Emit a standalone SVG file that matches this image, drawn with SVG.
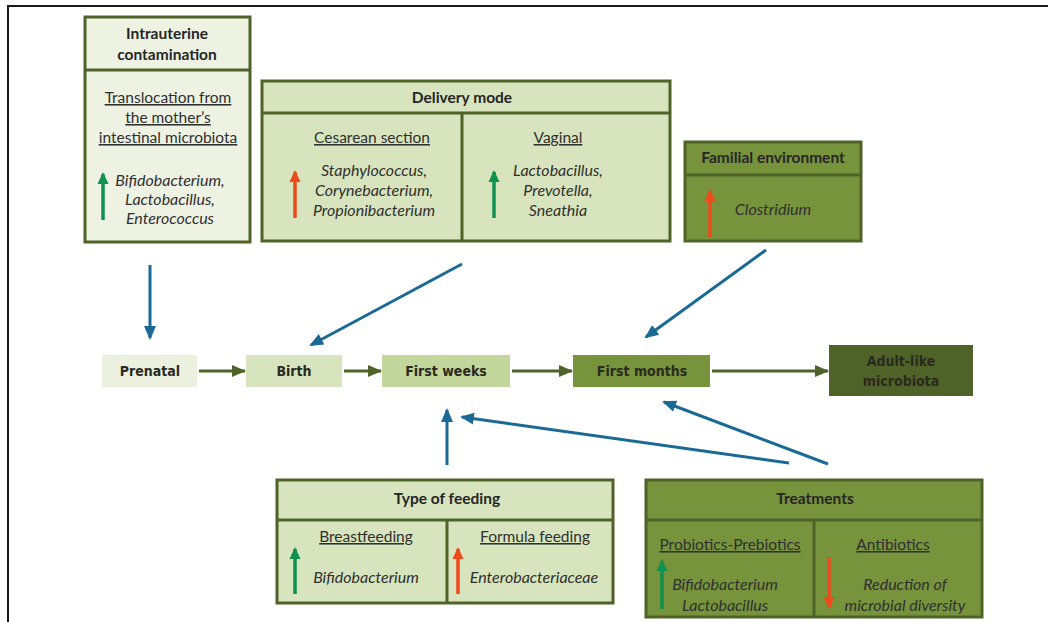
<svg xmlns="http://www.w3.org/2000/svg" width="1048" height="622" viewBox="0 0 1048 622">
<style>
.box{stroke:#4f6228;stroke-width:3}
.div{stroke:#4f6228;stroke-width:3;fill:none}
.h{font-family:Lato,"Liberation Sans",sans-serif;font-weight:bold;font-size:15.5px;fill:#262626;text-anchor:middle}
.u{font-family:Lato,"Liberation Sans",sans-serif;font-size:15.5px;fill:#303030;text-anchor:middle;text-decoration:underline}
.i{font-family:Lato,"Liberation Sans",sans-serif;font-style:italic;font-size:16px;fill:#303030;text-anchor:middle}
.t{font-family:"Liberation Sans Narrow","DejaVu Sans Condensed",sans-serif;font-weight:bold;font-size:14px;fill:#2a2a1e;text-anchor:middle}
.blue{stroke:#1b6a95;stroke-width:3;fill:none}
.tl{stroke:#4f6228;stroke-width:3;fill:none}
.ga{stroke:#0f9150;stroke-width:3.5;fill:none}
.ra{stroke:#ee4a1c;stroke-width:3.5;fill:none}
</style>
<defs>
<marker id="mb" markerUnits="userSpaceOnUse" markerWidth="14" markerHeight="14" viewBox="0 0 14 14" refX="12" refY="7" orient="auto"><path d="M0,1 L14,7 L0,13 Z" fill="#1b6a95"/></marker>
<marker id="mt" markerUnits="userSpaceOnUse" markerWidth="14" markerHeight="12" viewBox="0 0 14 12" refX="13" refY="6" orient="auto"><path d="M0,0 L14,6 L0,12 Z" fill="#4f6228"/></marker>
<marker id="mg" markerUnits="userSpaceOnUse" markerWidth="12" markerHeight="12" viewBox="0 0 12 12" refX="10" refY="6" orient="auto"><path d="M0,0.5 L12,6 L0,11.5 Z" fill="#0f9150"/></marker>
<marker id="mr" markerUnits="userSpaceOnUse" markerWidth="12" markerHeight="12" viewBox="0 0 12 12" refX="10" refY="6" orient="auto"><path d="M0,0.5 L12,6 L0,11.5 Z" fill="#ee4a1c"/></marker>
</defs>
<rect width="1048" height="622" fill="#ffffff"/>
<path d="M8,622 L8,6 L1048,6" stroke="#1a1a1a" stroke-width="2" fill="none"/>

<g id="intrauterine">
<rect class="box" x="85" y="17" width="165" height="225" fill="#eef2e3"/>
<line class="div" x1="85" y1="70" x2="250" y2="70"/>
<text class="h" x="167" y="39">Intrauterine</text>
<text class="h" x="167" y="60">contamination</text>
<text class="u" x="168" y="103">Translocation from</text>
<text class="u" x="168" y="123">the mother’s</text>
<text class="u" x="168" y="143">intestinal microbiota</text>
<line class="ga" x1="103" y1="220" x2="103" y2="174" marker-end="url(#mg)"/>
<text class="i" x="170" y="186">Bifidobacterium,</text>
<text class="i" x="170" y="205">Lactobacillus,</text>
<text class="i" x="170" y="224">Enterococcus</text>
</g>

<g id="delivery">
<rect class="box" x="262" y="81" width="408" height="160" fill="#d7e4bd"/>
<line class="div" x1="262" y1="113" x2="670" y2="113"/>
<line class="div" x1="462" y1="113" x2="462" y2="241"/>
<text class="h" x="462" y="103">Delivery mode</text>
<text class="u" x="372" y="143">Cesarean section</text>
<line class="ra" x1="295" y1="218" x2="295" y2="172" marker-end="url(#mr)"/>
<text class="i" x="374" y="176">Staphylococcus,</text>
<text class="i" x="374" y="196">Corynebacterium,</text>
<text class="i" x="374" y="216">Propionibacterium</text>
<text class="u" x="558" y="143">Vaginal</text>
<line class="ga" x1="494" y1="218" x2="494" y2="172" marker-end="url(#mg)"/>
<text class="i" x="558" y="176">Lactobacillus,</text>
<text class="i" x="558" y="196">Prevotella,</text>
<text class="i" x="558" y="216">Sneathia</text>
</g>

<g id="familial">
<rect class="box" x="685" y="142" width="176" height="99" fill="#77933c"/>
<line class="div" x1="685" y1="175" x2="861" y2="175"/>
<text class="h" x="773" y="163">Familial environment</text>
<line class="ra" x1="710" y1="237" x2="710" y2="191" marker-end="url(#mr)"/>
<text class="i" x="773" y="215">Clostridium</text>
</g>

<g id="prenatal">
<rect x="102" y="355" width="95" height="32" fill="#ebf1de"/>
<text class="t" x="150" y="376">Prenatal</text>
</g>
<g id="birth">
<rect x="246" y="355" width="96" height="32" fill="#d7e4bd"/>
<text class="t" x="294" y="376">Birth</text>
</g>
<g id="firstweeks">
<rect x="382" y="355" width="128" height="32" fill="#c3d69b"/>
<text class="t" x="446" y="376">First weeks</text>
</g>
<g id="firstmonths">
<rect x="573" y="355" width="137" height="32" fill="#77933c"/>
<text class="t" x="642" y="376">First months</text>
</g>
<g id="adult">
<rect x="829" y="345" width="144" height="51" fill="#4f6228"/>
<text class="t" x="901" y="366">Adult-like</text>
<text class="t" x="901" y="386">microbiota</text>
</g>

<g id="feeding">
<rect class="box" x="277" y="480" width="336" height="123" fill="#d7e4bd"/>
<line class="div" x1="277" y1="520" x2="613" y2="520"/>
<line class="div" x1="447" y1="520" x2="447" y2="603"/>
<text class="h" x="447" y="504">Type of feeding</text>
<text class="u" x="366" y="542">Breastfeeding</text>
<line class="ga" x1="295" y1="594" x2="295" y2="549" marker-end="url(#mg)"/>
<text class="i" x="366" y="583">Bifidobacterium</text>
<text class="u" x="535" y="542">Formula feeding</text>
<line class="ra" x1="458" y1="594" x2="458" y2="549" marker-end="url(#mr)"/>
<text class="i" x="534" y="583">Enterobacteriaceae</text>
</g>

<g id="treatments">
<rect class="box" x="646" y="480" width="336" height="137" fill="#77933c"/>
<line class="div" x1="646" y1="520" x2="982" y2="520"/>
<line class="div" x1="814" y1="520" x2="814" y2="617"/>
<text class="h" x="815" y="504">Treatments</text>
<text class="u" x="730" y="550">Probiotics-Prebiotics</text>
<line class="ga" x1="662" y1="609" x2="662" y2="561" marker-end="url(#mg)"/>
<text class="i" x="725" y="590">Bifidobacterium</text>
<text class="i" x="725" y="611">Lactobacillus</text>
<text class="u" x="893" y="550">Antibiotics</text>
<line class="ra" x1="829" y1="557" x2="829" y2="607" marker-end="url(#mr)"/>
<text class="i" x="905" y="590">Reduction of</text>
<text class="i" x="905" y="611">microbial diversity</text>
</g>

<g id="connectors">
<line class="tl" x1="199" y1="371" x2="245" y2="371" marker-end="url(#mt)"/>
<line class="tl" x1="344" y1="371" x2="381" y2="371" marker-end="url(#mt)"/>
<line class="tl" x1="512" y1="371" x2="572" y2="371" marker-end="url(#mt)"/>
<line class="tl" x1="712" y1="371" x2="828" y2="371" marker-end="url(#mt)"/>
<line class="blue" x1="150" y1="265" x2="150" y2="338" marker-end="url(#mb)"/>
<line class="blue" x1="462" y1="264" x2="311" y2="345" marker-end="url(#mb)"/>
<line class="blue" x1="766" y1="250" x2="646" y2="337" marker-end="url(#mb)"/>
<line class="blue" x1="447" y1="465" x2="447" y2="410" marker-end="url(#mb)"/>
<line class="blue" x1="789" y1="463" x2="462" y2="417" marker-end="url(#mb)"/>
<line class="blue" x1="828" y1="464" x2="664" y2="402" marker-end="url(#mb)"/>
</g>
</svg>
